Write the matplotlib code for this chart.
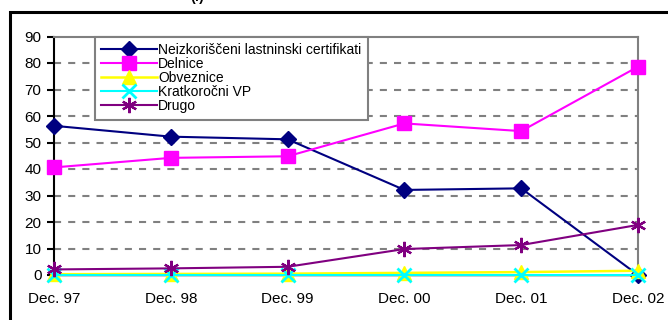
import matplotlib.pyplot as plt
from matplotlib.patches import Rectangle

plt.rcParams['font.family'] = ['Liberation Sans', 'DejaVu Sans']

# struktura naložb po letih (v %)
leta = ['Dec. 97', 'Dec. 98', 'Dec. 99', 'Dec. 00', 'Dec. 01', 'Dec. 02']
certifikati = [56.3, 52.2, 51.2, 32.1, 32.7, 0.0]
delnice = [40.6, 44.2, 44.8, 57.2, 54.3, 78.6]
obveznice = [0.3, 0.4, 0.5, 0.8, 1.1, 1.6]
kratkorocni = [0.0, 0.0, 0.0, 0.0, 0.0, 0.0]
drugo = [2.1, 2.5, 3.1, 9.8, 11.3, 18.9]

W, H = 668, 320
fig = plt.figure(figsize=(W / 100, H / 100), dpi=100)
ax = fig.add_axes([54 / W, 1 - 275 / H, (638 - 54) / W, (275 - 36.5) / H])

x = range(len(leta))
ax.plot(x, certifikati, color='#000080', lw=1.5, marker='D', ms=8.5,
        label='Neizkoriščeni lastninski certifikati', clip_on=False, zorder=3)
ax.plot(x, delnice, color='#FF00FF', lw=1.5, marker='s', ms=9.5,
        label='Delnice', clip_on=False, zorder=3)
ax.plot(x, obveznice, color='#FFFF00', lw=1.8, marker='^', ms=9.5,
        label='Obveznice', clip_on=False, zorder=4)
ax.plot(x, kratkorocni, color='#00FFFF', lw=1.5, marker='x', ms=9.5, mew=2,
        label='Kratkoročni VP', clip_on=False, zorder=5)
ax.plot(x, drugo, color='#800080', lw=1.5, marker=(6, 2, 0), ms=11, mew=1.6,
        label='Drugo', clip_on=False, zorder=6)

ax.set_xlim(0, len(leta) - 1)
ax.set_ylim(0, 90)
ax.set_yticks(range(0, 91, 10))
ax.set_xticks(list(x))
ax.set_xticklabels(leta)
ax.tick_params(axis='y', direction='out', length=5, width=1.5, labelsize=11, pad=4)
ax.tick_params(axis='x', length=0, labelsize=11, pad=12)

for y in range(10, 90, 10):
    ax.axhline(y, color='#808080', lw=1.5, ls=(0, (3.4, 3.4)), zorder=1)

ax.spines['left'].set_color('black')
ax.spines['left'].set_linewidth(1.5)
ax.spines['bottom'].set_color('black')
ax.spines['bottom'].set_linewidth(1.0)
for s in ('top', 'right'):
    ax.spines[s].set_color('#808080')
    ax.spines[s].set_linewidth(1.5)

leg = fig.legend(loc='upper left', bbox_to_anchor=(95 / W, 1 - 37 / H),
                 fontsize=10, frameon=True, fancybox=False, framealpha=1,
                 edgecolor='#808080', borderaxespad=0, handlelength=4.0,
                 handletextpad=0.1, labelspacing=0.0, borderpad=0.45)
leg.get_frame().set_linewidth(1.5)
leg.set_zorder(10)

# okvir grafikona
fig.patches.append(Rectangle((10 / W, -0.1), 1.2, 1 - 12 / H + 0.1,
                             transform=fig.transFigure, fill=False,
                             edgecolor='black', lw=2.2))
fig.text(197 / W, 1 - 4 / H, '(f)', ha='center', va='bottom',
         fontsize=10, weight='bold')

fig.savefig('out.png', dpi=100)
